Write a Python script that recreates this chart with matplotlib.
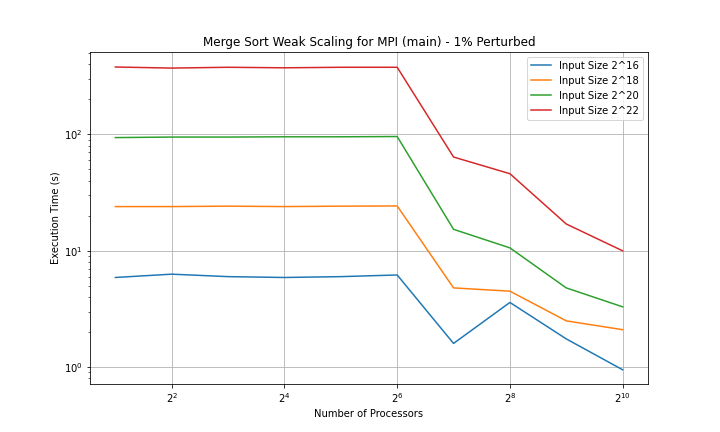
import matplotlib
matplotlib.use("Agg")
import matplotlib.pyplot as plt

procs = [2, 4, 8, 16, 32, 64, 128, 256, 512, 1024]
labels = ["Input Size 2^16", "Input Size 2^18", "Input Size 2^20", "Input Size 2^22"]
t16 = [5.9, 6.3, 6.0, 5.9, 6.0, 6.2, 1.6, 3.6, 1.75, 0.95]
t18 = [24, 24, 24.2, 24, 24.2, 24.3, 4.8, 4.5, 2.5, 2.1]
t20 = [94, 95, 95, 95.5, 95.5, 96, 15.3, 10.6, 4.8, 3.3]
t22 = [380, 372, 378, 374, 378, 378, 64, 46, 17, 10]

fig, ax = plt.subplots(figsize=(10, 6), dpi=72)
for s, l in zip([t16, t18, t20, t22], labels):
    ax.plot(procs, s, label=l)
ax.set_xscale("log", base=2)
ax.set_yscale("log")
ax.set_xticks([4, 16, 64, 256, 1024])
ax.set_ylim(0.71, 513)
ax.grid(True)
ax.set_xlabel("Number of Processors")
ax.set_ylabel("Execution Time (s)")
ax.set_title("Merge Sort Weak Scaling for MPI (main) - 1% Perturbed")
ax.legend(loc="upper right")
fig.savefig("out.png", dpi=72)
